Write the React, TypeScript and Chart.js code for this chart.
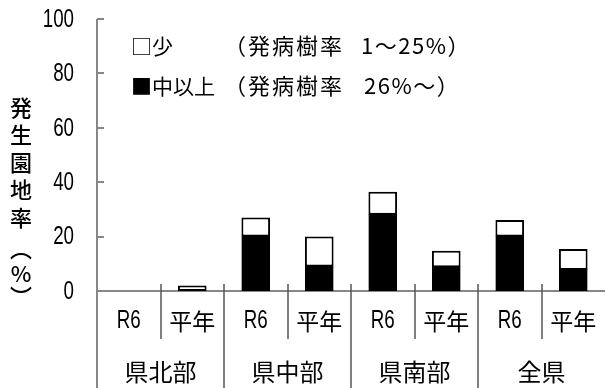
import React, { useEffect, useRef } from "react";
import { Chart, registerables } from "chart.js";

Chart.register(...registerables);

const categories = ["R6", "平年", "R6", "平年", "R6", "平年", "R6", "平年"];
const groups = ["県北部", "県中部", "県南部", "全県"];
const heavyLabel = "中以上";
const lightLabel = "少";
const heavyValues = [0, 0, 20, 9, 28, 8.7, 20, 7.7];
const lightValues = [0, 2, 7, 11, 8.5, 6.1, 6.1, 7.7];
const yMax = 100;
const yStep = 20;
const yTitle = ["発", "生", "園", "地", "率", "︵", "%", "︶"];
const legendLight = ["□少", "（発病樹率", "1～25%）"];
const legendHeavy = ["■中以上", "（発病樹率", "26%～）"];

const LATIN = '"Liberation Sans", Arial, sans-serif';
const CJK = '"Noto Sans CJK JP", sans-serif';
const AXIS_GRAY = "#878787";
const TITLE_Y = [108, 135, 163, 190, 218, 249, 274, 297];

function narrowText(ctx: CanvasRenderingContext2D, text: string, x: number, y: number, align: "right" | "center") {
  const cjk = /[^\x00-\x7f]/.test(text);
  if (cjk) {
    ctx.font = `23px ${CJK}`;
    ctx.textAlign = align;
    ctx.fillText(text, x, y);
    return;
  }
  ctx.save();
  ctx.font = `25px ${LATIN}`;
  ctx.textAlign = align;
  ctx.translate(x, y);
  ctx.scale(0.75, 1);
  ctx.fillText(text, 0, 0);
  ctx.restore();
}

const decorPlugin = {
  id: "decor",
  beforeDatasetsDraw(chart: any) {
    const ctx = chart.ctx;
    const ca = chart.chartArea;
    const ys = chart.scales.y;
    const xs = chart.scales.x;
    const y0 = ys.getPixelForValue(0);
    ctx.save();
    ctx.strokeStyle = AXIS_GRAY;
    ctx.lineWidth = 2;
    ctx.beginPath();
    ctx.moveTo(ca.left, ca.top);
    ctx.lineTo(ca.left, chart.height);
    ctx.moveTo(ca.left, y0);
    ctx.lineTo(ca.right, y0);
    ys.ticks.forEach((t: any) => {
      if (t.value === 0) return;
      const py = Math.round(ys.getPixelForValue(t.value));
      ctx.moveTo(ca.left, py);
      ctx.lineTo(ca.left + 7, py);
    });
    ctx.stroke();
    ctx.lineWidth = 1.5;
    ctx.strokeStyle = "#555";
    ctx.beginPath();
    for (let i = 0; i < categories.length - 1; i++) {
      const bx = Math.round((xs.getPixelForValue(i) + xs.getPixelForValue(i + 1)) / 2);
      const bottom = i % 2 === 0 ? 339 : chart.height;
      ctx.moveTo(bx, y0 - 7);
      ctx.lineTo(bx, bottom);
    }
    ctx.stroke();
    ctx.restore();
  },
  afterDraw(chart: any) {
    const ctx = chart.ctx;
    const xs = chart.scales.x;
    const ys = chart.scales.y;
    const ca = chart.chartArea;
    ctx.save();
    ctx.fillStyle = "#000";
    ctx.textBaseline = "middle";
    ys.ticks.forEach((t: any) => {
      narrowText(ctx, String(t.value), ca.left - 23, ys.getPixelForValue(t.value) + 1, "right");
    });
    categories.forEach((c, i) => {
      narrowText(ctx, c, xs.getPixelForValue(i), 321, "center");
    });
    ctx.font = `24px ${CJK}`;
    ctx.textAlign = "center";
    groups.forEach((g, gi) => {
      const cx = (xs.getPixelForValue(gi * 2) + xs.getPixelForValue(gi * 2 + 1)) / 2;
      ctx.fillText(g, cx, 372);
    });
    ctx.font = `500 22px ${CJK}`;
    yTitle.forEach((c, i) => {
      ctx.fillText(c, 21, TITLE_Y[i]);
    });
    ctx.textAlign = "left";
    const c2 = ctx as any;
    const drawLegendLine = (parts: string[], y: number, tailX: number) => {
      ctx.font = `21px ${CJK}`;
      c2.letterSpacing = "0px";
      ctx.fillText(parts[0], 131, y);
      ctx.font = `22px ${CJK}`;
      c2.letterSpacing = "2px";
      ctx.fillText(parts[1], 224, y);
      c2.letterSpacing = "1.5px";
      ctx.fillText(parts[2], tailX, y);
    };
    drawLegendLine(legendLight, 46, 361);
    drawLegendLine(legendHeavy, 86, 364);
    ctx.restore();
  },
};

const inflate = (c: any) => (c.raw > 0 ? 1 : 0);

export default function App() {
  const ref = useRef<HTMLCanvasElement | null>(null);
  useEffect(() => {
    document.body.style.margin = "0";
    const canvas = ref.current!;
    const chart = new Chart(canvas, {
      type: "bar",
      data: {
        labels: categories,
        datasets: [
          {
            label: heavyLabel,
            data: heavyValues,
            backgroundColor: "#000",
            borderColor: "#000",
            borderWidth: 2,
            borderSkipped: false,
            inflateAmount: inflate,
            categoryPercentage: 1,
            barPercentage: 0.42,
          } as any,
          {
            label: lightLabel,
            data: lightValues,
            backgroundColor: "#fff",
            borderColor: "#000",
            borderWidth: 2,
            borderSkipped: false,
            inflateAmount: 0,
            categoryPercentage: 1,
            barPercentage: 0.4515,
          },
        ],
      },
      options: {
        responsive: false,
        animation: false,
        devicePixelRatio: 1,
        layout: { padding: { top: 19, right: 1, left: 0, bottom: 0 } },
        plugins: { legend: { display: false }, tooltip: { enabled: false }, title: { display: false } },
        scales: {
          x: {
            stacked: true,
            offset: true,
            grid: { display: false, drawTicks: false },
            border: { display: false },
            ticks: { display: false },
            afterFit(scale: any) {
              scale.height = 97;
            },
          },
          y: {
            stacked: true,
            min: 0,
            max: yMax,
            grid: { display: false, drawTicks: false },
            border: { display: false },
            ticks: { display: false, stepSize: yStep },
            afterFit(scale: any) {
              scale.width = 97;
            },
          },
        },
      },
      plugins: [decorPlugin],
    });
    return () => chart.destroy();
  }, []);
  return (
    <div style={{ position: "absolute", left: 0, top: 0, width: 606, height: 388, background: "#fff" }}>
      <canvas ref={ref} width={606} height={388} />
    </div>
  );
}
